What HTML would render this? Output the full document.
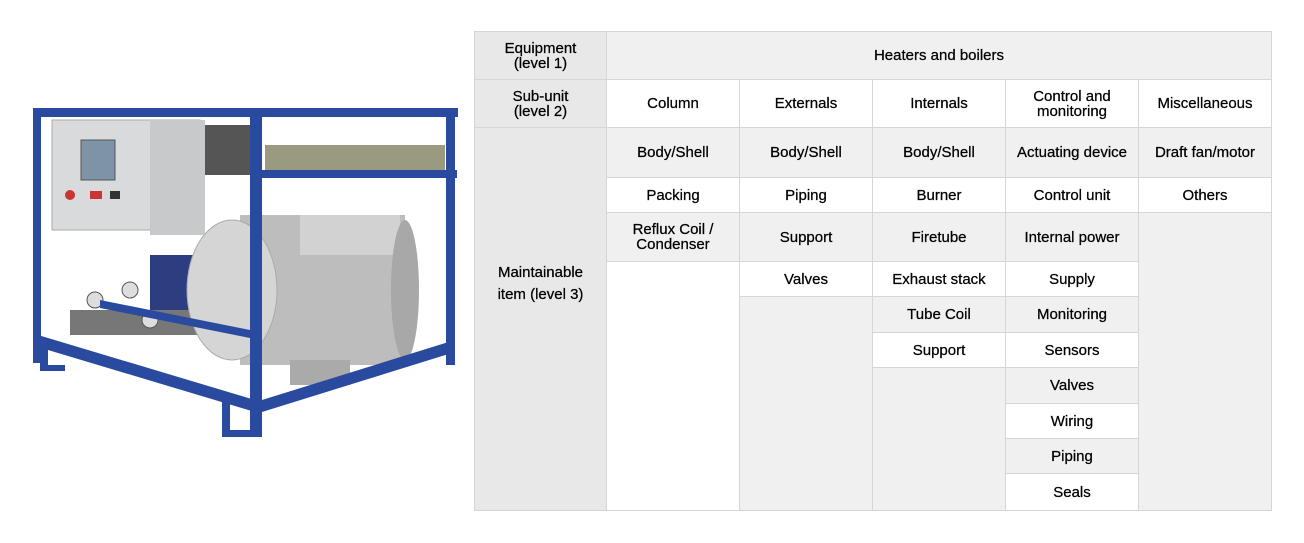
<!DOCTYPE html>
<html><head><meta charset="utf-8"><style>
body{margin:0;width:1304px;height:543px;background:#fff;position:relative;overflow:hidden;font-family:"Liberation Sans",sans-serif;}
.c{position:absolute;box-sizing:border-box;display:flex;align-items:center;justify-content:center;text-align:center;font-size:15px;line-height:15px;color:#000;-webkit-text-stroke:0.25px #000;border-right:1px solid #d6d6d6;border-bottom:1px solid #d6d6d6;}
.g{background:#f0f0f0}.w{background:#fff}.h{background:#e8e8e8}
</style></head><body>
<svg style="position:absolute;left:0;top:0" width="470" height="543">
<rect x="52" y="120" width="148" height="110" fill="#d9dadc" stroke="#aaa"/>
<rect x="150" y="120" width="55" height="115" fill="#c8c9cb"/>
<rect x="81" y="140" width="34" height="40" fill="#7f93a6" stroke="#555"/>
<circle cx="70" cy="195" r="5" fill="#c33"/><rect x="90" y="191" width="12" height="8" fill="#c33"/><rect x="110" y="191" width="10" height="8" fill="#333"/>
<rect x="205" y="125" width="45" height="50" fill="#555"/>
<rect x="265" y="145" width="180" height="25" fill="#9a9a80"/>
<rect x="295" y="170" width="85" height="5" fill="#e0b020"/>
<rect x="150" y="255" width="80" height="55" fill="#2c3e80"/>
<rect x="70" y="310" width="140" height="25" fill="#777"/>
<circle cx="95" cy="300" r="8" fill="#ddd" stroke="#555"/>
<circle cx="130" cy="290" r="8" fill="#ddd" stroke="#555"/>
<circle cx="150" cy="320" r="8" fill="#ddd" stroke="#555"/>
<rect x="240" y="215" width="165" height="150" fill="#bdbdbd"/>
<rect x="300" y="215" width="100" height="40" fill="#d2d2d2"/>
<ellipse cx="405" cy="290" rx="14" ry="70" fill="#a8a8a8"/>
<ellipse cx="232" cy="290" rx="45" ry="70" fill="#d5d5d5" stroke="#aaa"/>
<rect x="290" y="360" width="60" height="25" fill="#aaa"/>
<g fill="#2a4aa0">
<rect x="33" y="108" width="425" height="9"/>
<rect x="33" y="108" width="8" height="255"/>
<rect x="250" y="110" width="12" height="325"/>
<rect x="446" y="110" width="9" height="255"/>
<rect x="262" y="170" width="195" height="8"/>
<polygon points="38,335 255,400 255,412 38,347"/>
<polygon points="262,400 455,340 455,352 262,412"/>
<polygon points="100,300 250,330 250,338 100,308"/>
<rect x="40" y="345" width="8" height="25"/><rect x="222" y="400" width="8" height="35"/>
<rect x="222" y="430" width="40" height="7"/><rect x="40" y="365" width="25" height="6"/>
</g>
</svg>
<div class="c h" style="left:474px;top:31px;width:133px;height:49px;border-top:1px solid #d6d6d6;border-left:1px solid #d6d6d6">Equipment<br>(level 1)</div>
<div class="c g" style="left:607px;top:31px;width:665px;height:49px;border-top:1px solid #d6d6d6">Heaters and boilers</div>
<div class="c h" style="left:474px;top:80px;width:133px;height:48px;border-left:1px solid #d6d6d6">Sub-unit<br>(level 2)</div>
<div class="c w" style="left:607px;top:80px;width:133px;height:48px">Column</div>
<div class="c w" style="left:740px;top:80px;width:133px;height:48px">Externals</div>
<div class="c w" style="left:873px;top:80px;width:133px;height:48px">Internals</div>
<div class="c w" style="left:1006px;top:80px;width:133px;height:48px">Control and<br>monitoring</div>
<div class="c w" style="left:1139px;top:80px;width:133px;height:48px">Miscellaneous</div>
<div class="c h" style="left:474px;top:128px;width:133px;height:383px;border-left:1px solid #d6d6d6;line-height:22px;align-items:flex-start;padding-top:134px">Maintainable<br>item (level 3)</div>
<div class="c g" style="left:607px;top:128px;width:133px;height:50px">Body/Shell</div>
<div class="c w" style="left:607px;top:178px;width:133px;height:35px">Packing</div>
<div class="c g" style="left:607px;top:213px;width:133px;height:49px">Reflux Coil /<br>Condenser</div>
<div class="c w" style="left:607px;top:262px;width:133px;height:249px"></div>
<div class="c g" style="left:740px;top:128px;width:133px;height:50px">Body/Shell</div>
<div class="c w" style="left:740px;top:178px;width:133px;height:35px">Piping</div>
<div class="c g" style="left:740px;top:213px;width:133px;height:49px">Support</div>
<div class="c w" style="left:740px;top:262px;width:133px;height:35px">Valves</div>
<div class="c g" style="left:740px;top:297px;width:133px;height:214px"></div>
<div class="c g" style="left:873px;top:128px;width:133px;height:50px">Body/Shell</div>
<div class="c w" style="left:873px;top:178px;width:133px;height:35px">Burner</div>
<div class="c g" style="left:873px;top:213px;width:133px;height:49px">Firetube</div>
<div class="c w" style="left:873px;top:262px;width:133px;height:35px">Exhaust stack</div>
<div class="c g" style="left:873px;top:297px;width:133px;height:36px">Tube Coil</div>
<div class="c w" style="left:873px;top:333px;width:133px;height:35px">Support</div>
<div class="c g" style="left:873px;top:368px;width:133px;height:143px"></div>
<div class="c g" style="left:1006px;top:128px;width:133px;height:50px">Actuating device</div>
<div class="c w" style="left:1006px;top:178px;width:133px;height:35px">Control unit</div>
<div class="c g" style="left:1006px;top:213px;width:133px;height:49px">Internal power</div>
<div class="c w" style="left:1006px;top:262px;width:133px;height:35px">Supply</div>
<div class="c g" style="left:1006px;top:297px;width:133px;height:36px">Monitoring</div>
<div class="c w" style="left:1006px;top:333px;width:133px;height:35px">Sensors</div>
<div class="c g" style="left:1006px;top:368px;width:133px;height:36px">Valves</div>
<div class="c w" style="left:1006px;top:404px;width:133px;height:35px">Wiring</div>
<div class="c g" style="left:1006px;top:439px;width:133px;height:35px">Piping</div>
<div class="c w" style="left:1006px;top:474px;width:133px;height:37px">Seals</div>
<div class="c g" style="left:1139px;top:128px;width:133px;height:50px">Draft fan/motor</div>
<div class="c w" style="left:1139px;top:178px;width:133px;height:35px">Others</div>
<div class="c g" style="left:1139px;top:213px;width:133px;height:298px"></div>
</body></html>
